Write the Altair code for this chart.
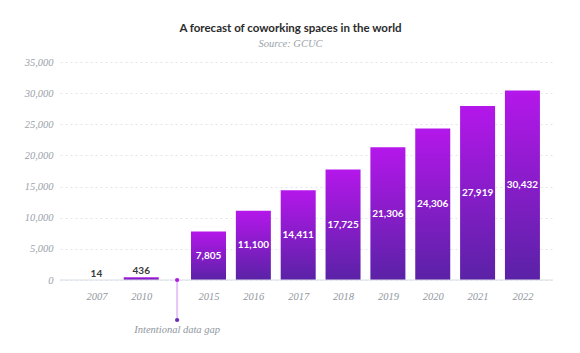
import altair as alt
import pandas as pd

years = ["2007", "2010", "2015", "2016", "2017", "2018", "2019", "2020", "2021", "2022"]
values = [14, 436, 7805, 11100, 14411, 17725, 21306, 24306, 27919, 30432]
# slot positions along the x axis (a half-slot extra gap after 2010)
slots = [0, 1, 2.5, 3.5, 4.5, 5.5, 6.5, 7.5, 8.5, 9.5]
gap_slot = [1.8]
gap_label = ["Intentional data gap"]
y_ticks = [0, 5000, 10000, 15000, 20000, 25000, 30000, 35000]

df = pd.DataFrame({"year": years, "value": values, "slot": slots})
df["label"] = [f"{v:,}" for v in values]
df["mid"] = df["value"] / 2
gap_df = pd.DataFrame({"slot": gap_slot, "text": gap_label})

label_map = ",".join(f"'{s}':'{y}'" for s, y in zip(slots, years))
label_expr = "({" + label_map + "})[toString(datum.value)]"

serif = "Liberation Serif"
sans = "Lato"

xscale = alt.Scale(domain=[-0.7, 10.07], nice=False, zero=False)
yscale = alt.Scale(domain=[0, 35000], nice=False)

xa = alt.Axis(
    values=slots, labelExpr=label_expr, grid=False, domain=False, ticks=False,
    labelFont=serif, labelFontStyle="italic", labelFontSize=10.5, labelColor="#8f979e",
    labelPadding=11, title=None)
ya = alt.Axis(
    values=y_ticks, labelExpr="format(datum.value, ',')", grid=True, gridDash=[2, 3],
    gridColor="#e1e5e9", domain=False, ticks=False, labelFont=serif, labelFontStyle="italic",
    labelFontSize=10.5, labelColor="#9aa2aa", labelPadding=7, title=None)

def X(f):
    return alt.X(f, scale=xscale, axis=xa)

def Y(f):
    return alt.Y(f, scale=yscale, axis=ya)

base = alt.Chart(df)

bars = base.mark_bar(size=35, color=alt.Gradient(
    gradient="linear",
    stops=[alt.GradientStop(color="#b417ea", offset=0),
           alt.GradientStop(color="#5a22a6", offset=1)],
    x1=0, x2=0, y1=0, y2=1)).encode(x=X("slot:Q"), y=Y("value:Q"))

zero = alt.Chart(pd.DataFrame({"value": [0]})).mark_rule(color="#d8dfe5", strokeWidth=1).encode(
    y=Y("value:Q"))

inside = base.transform_filter("datum.value >= 5000").mark_text(
    color="white", font=sans, fontWeight="bold", fontSize=10).encode(
    x=X("slot:Q"), y=Y("mid:Q"), text="label:N")

above = base.transform_filter("datum.value < 5000").mark_text(
    color="#3a3a3a", font=sans, fontWeight="bold", fontSize=10, baseline="bottom", dy=-1).encode(
    x=X("slot:Q"), y=Y("value:Q"), text="label:N")

gap = alt.Chart(gap_df)
gap_line = gap.mark_rule(color="#e6c4f6", strokeWidth=2).encode(
    x=X("slot:Q"), y=alt.value(218), y2=alt.value(258))
gap_top = gap.mark_point(filled=True, size=18, color="#b01ae8", opacity=1).encode(
    x=X("slot:Q"), y=alt.value(218))
gap_bot = gap.mark_point(filled=True, size=18, color="#6a2bb8", opacity=1).encode(
    x=X("slot:Q"), y=alt.value(258))
gap_text = gap.mark_text(font=serif, fontStyle="italic", fontSize=10.5, color="#8f979e").encode(
    x=X("slot:Q"), y=alt.value(268), text="text:N")

chart = alt.layer(bars, zero, inside, above, gap_line, gap_top, gap_bot, gap_text).properties(
    width=493, height=218,
    background="white",
    title=alt.TitleParams(
        text="A forecast of coworking spaces in the world",
        subtitle="Source: GCUC",
        font=sans, fontSize=11.5, fontWeight="bold", color="#2b2b2b",
        subtitleFont=serif, subtitleFontStyle="italic", subtitleFontSize=10.5,
        subtitleColor="#9aa2aa", subtitlePadding=4, anchor="middle", dx=-16, dy=3, offset=11),
    autosize=alt.AutoSizeParams(type="none"),
    padding={"left": 60, "top": 62, "right": 27, "bottom": 73},
).configure_view(stroke=None)

chart.save("out.html", embed_options={"renderer": "svg", "actions": False})
